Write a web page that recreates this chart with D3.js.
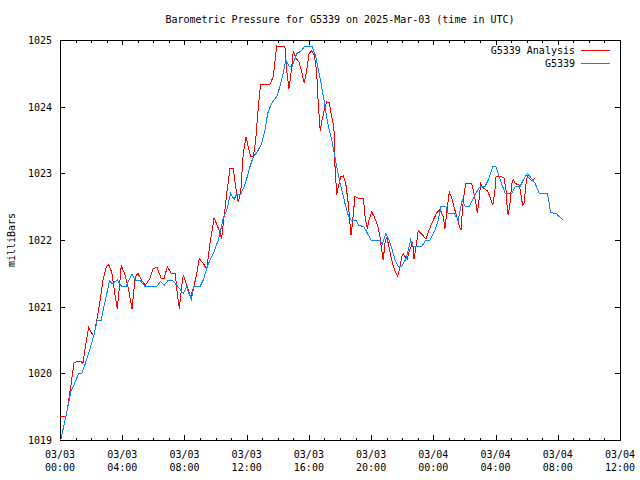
<!DOCTYPE html>
<html>
<head>
<meta charset="utf-8">
<script src="https://cdn.jsdelivr.net/npm/d3@7.9.0/dist/d3.min.js"></script>
<style>
  body { margin: 0; background: #fff; }
  svg { display: block; font-family: "DejaVu Sans Mono", monospace; font-size: 10px; }
  .frame line, .frame rect { shape-rendering: crispEdges; }
  .series { shape-rendering: crispEdges; }
</style>
</head>
<body>
<div id="chart"></div>
<script>
// hours after 2025-03-03 00:00 UTC, and pressure in mb
const analysisHours = [0.0, 0.40, 0.51, 0.69, 0.90, 1.11, 1.33, 1.48, 1.63, 1.84, 2.01, 2.17, 2.33, 2.55, 2.76, 2.98,
  3.15, 3.34, 3.52, 3.68, 3.84, 3.94, 4.16, 4.37, 4.63, 4.84, 5.01, 5.23, 5.48, 5.77, 5.98, 6.24, 6.51, 6.69, 6.90,
  7.15, 7.41, 7.54, 7.67, 7.82, 7.93, 8.18, 8.40, 8.61, 8.79, 8.95, 9.21, 9.43, 9.64, 9.82, 9.90, 10.11, 10.29, 10.39,
  10.54, 10.72, 10.93, 11.14, 11.29, 11.46, 11.62, 11.78, 11.96, 12.10, 12.26, 12.43, 12.58, 12.75, 12.90, 13.50,
  13.71, 13.93, 14.46, 14.57, 14.72, 14.85, 15.00, 15.15, 15.36, 15.54, 15.70, 15.86, 16.01, 16.18, 16.35, 16.50,
  16.60, 16.73, 16.82, 16.99, 17.14, 17.31, 17.47, 17.61, 17.68, 17.79, 17.89, 18.06, 18.21, 18.37, 18.53, 18.71,
  18.82, 18.96, 19.18, 19.50, 19.61, 19.76, 19.86, 20.04, 20.20, 20.42, 20.57, 20.68, 20.78, 20.89, 21.00, 21.15,
  21.32, 21.49, 21.71, 21.86, 21.97, 22.07, 22.18, 22.33, 22.46, 22.67, 22.76, 22.89, 23.03, 23.19, 23.36, 23.53,
  23.74, 24.00, 24.22, 24.43, 24.64, 24.75, 24.90, 25.03, 25.18, 25.33, 25.50, 25.67, 25.78, 25.84, 25.93, 26.08,
  26.46, 26.61, 26.74, 26.83, 26.92, 27.04, 27.21, 27.47, 27.64, 27.82, 27.94, 28.03, 28.29, 28.54, 28.67, 28.76,
  28.82, 28.93, 29.04, 29.14, 29.25, 29.53, 29.62, 29.74, 29.83, 29.96, 30.04, 30.17, 30.32, 30.43, 30.54];
const analysisValues = [1019.35, 1019.36, 1019.52, 1019.80, 1020.16, 1020.18, 1020.18, 1020.15, 1020.40, 1020.69,
  1020.61, 1020.56, 1020.75, 1021.05, 1021.40, 1021.60, 1021.63, 1021.50, 1021.20, 1020.97, 1021.35, 1021.62,
  1021.49, 1021.30, 1020.97, 1021.45, 1021.50, 1021.40, 1021.32, 1021.42, 1021.57, 1021.59, 1021.42, 1021.42,
  1021.60, 1021.50, 1021.50, 1021.20, 1020.97, 1021.30, 1021.48, 1021.30, 1021.15, 1021.30, 1021.50, 1021.72,
  1021.65, 1021.56, 1021.95, 1022.20, 1022.33, 1022.22, 1022.10, 1022.02, 1022.33, 1022.70, 1023.08, 1023.08,
  1022.80, 1022.57, 1022.72, 1023.30, 1023.55, 1023.40, 1023.25, 1023.25, 1023.50, 1024.00, 1024.34, 1024.34,
  1024.45, 1024.91, 1024.90, 1024.55, 1024.27, 1024.50, 1024.83, 1024.73, 1024.67, 1024.52, 1024.35, 1024.55,
  1024.80, 1024.84, 1024.77, 1024.52, 1024.05, 1023.63, 1023.77, 1023.95, 1024.07, 1024.06, 1023.85, 1023.68,
  1023.10, 1022.68, 1022.80, 1022.95, 1022.96, 1022.85, 1022.55, 1022.07, 1022.30, 1022.65, 1022.63, 1022.63,
  1022.35, 1022.17, 1022.30, 1022.42, 1022.35, 1022.22, 1022.05, 1021.85, 1021.70, 1021.95, 1022.05, 1021.90,
  1021.70, 1021.56, 1021.45, 1021.60, 1021.75, 1021.80, 1021.75, 1021.71, 1021.85, 1021.95, 1021.72, 1021.90,
  1022.14, 1022.10, 1022.06, 1022.01, 1022.16, 1022.30, 1022.41, 1022.46, 1022.35, 1022.17, 1022.50, 1022.72,
  1022.63, 1022.50, 1022.35, 1022.21, 1022.15, 1022.35, 1022.60, 1022.85, 1022.85, 1022.70, 1022.55, 1022.40,
  1022.56, 1022.85, 1022.78, 1022.74, 1022.65, 1022.52, 1022.70, 1022.95, 1022.95, 1022.94, 1022.75, 1022.45,
  1022.37, 1022.55, 1022.85, 1022.91, 1022.85, 1022.82, 1022.70, 1022.52, 1022.55, 1022.85, 1022.96, 1022.92,
  1022.89, 1022.91, 1022.92];

const obsHours = [0.05, 0.51, 0.69, 0.94, 1.20, 1.41, 1.59, 1.91, 2.19, 2.40, 2.65, 2.87, 3.19, 3.34, 3.68, 3.94,
  4.26, 4.63, 4.84, 5.12, 5.44, 6.25, 6.47, 6.69, 6.94, 7.26, 7.54, 7.93, 8.14, 8.44, 8.61, 9.00, 9.21, 9.53, 9.86,
  10.18, 10.33, 10.50, 10.72, 10.97, 11.19, 11.36, 11.62, 11.83, 12.04, 12.21, 12.43, 12.68, 12.97, 13.18, 13.35,
  13.61, 13.93, 14.14, 14.35, 14.51, 14.72, 14.93, 15.22, 15.49, 15.70, 16.22, 16.44, 16.61, 16.82, 16.99, 17.14,
  17.31, 17.47, 17.63, 17.79, 17.96, 18.11, 18.32, 18.53, 18.71, 19.01, 19.22, 19.54, 19.72, 19.99, 20.57, 20.72,
  20.94, 21.15, 21.32, 21.54, 21.75, 21.97, 22.24, 22.39, 22.54, 22.71, 23.25, 23.51, 23.79, 24.11, 24.32, 24.49,
  24.80, 24.96, 25.33, 25.60, 25.86, 26.03, 26.31, 26.68, 27.00, 27.32, 27.53, 27.82, 28.03, 28.24, 28.46, 28.61,
  29.04, 29.25, 29.57, 29.78, 30.04, 30.32, 30.54, 30.81, 31.33, 31.45, 31.54, 31.89, 32.10, 32.32];
const obsValues = [1019.0, 1019.5, 1019.72, 1019.85, 1020.0, 1020.0, 1020.12, 1020.35, 1020.58, 1020.8, 1020.8,
  1021.05, 1021.39, 1021.34, 1021.4, 1021.31, 1021.31, 1021.49, 1021.4, 1021.4, 1021.31, 1021.31, 1021.38, 1021.32,
  1021.39, 1021.39, 1021.31, 1021.2, 1021.3, 1021.1, 1021.3, 1021.3, 1021.4, 1021.64, 1021.8, 1022.0, 1022.15,
  1022.33, 1022.45, 1022.7, 1022.61, 1022.69, 1022.69, 1022.8, 1022.95, 1023.1, 1023.25, 1023.32, 1023.45, 1023.65,
  1023.9, 1024.05, 1024.15, 1024.3, 1024.5, 1024.7, 1024.61, 1024.6, 1024.8, 1024.83, 1024.9, 1024.9, 1024.75,
  1024.55, 1024.3, 1024.07, 1023.85, 1023.65, 1023.5, 1023.3, 1023.1, 1022.9, 1022.75, 1022.55, 1022.37, 1022.3,
  1022.3, 1022.22, 1022.2, 1022.12, 1022.0, 1022.0, 1021.94, 1022.09, 1022.0, 1021.88, 1021.7, 1021.6, 1021.6,
  1021.72, 1021.85, 1022.0, 1021.9, 1021.9, 1022.0, 1022.0, 1022.15, 1022.3, 1022.5, 1022.5, 1022.4, 1022.4,
  1022.3, 1022.6, 1022.51, 1022.5, 1022.68, 1022.8, 1022.8, 1022.9, 1023.1, 1023.1, 1022.95, 1022.8, 1022.7,
  1022.7, 1022.8, 1022.8, 1022.9, 1023.0, 1022.92, 1022.85, 1022.7, 1022.7, 1022.55, 1022.41, 1022.4, 1022.35,
  1022.31];

const seriesNames = ['G5339 Analysis', 'G5339'];
const seriesColors = ['#ff0000', '#0a84ff'];
const yTicks = [1019, 1020, 1021, 1022, 1023, 1024, 1025];

const start = new Date(Date.UTC(2025, 2, 3, 0, 0));
const end = new Date(Date.UTC(2025, 2, 4, 12, 0));
const toDate = h => new Date(start.getTime() + h * 3600e3);

const width = 640, height = 480;
const margin = { top: 40, right: 20, bottom: 40, left: 60 };

const svg = d3.select('#chart').append('svg')
  .attr('width', width)
  .attr('height', height);

const x = d3.scaleUtc().domain([start, end]).range([margin.left, width - margin.right]);
const y = d3.scaleLinear().domain([1019, 1025]).range([height - margin.bottom, margin.top]);

const frame = svg.append('g').attr('class', 'frame');
const majors = d3.utcHour.every(4).range(start, d3.utcMinute.offset(end, 1));
const minors = d3.utcHour.range(start, d3.utcMinute.offset(end, 1));

// ticks on all four sides, gnuplot style
frame.selectAll('.xminor').data(minors).join('g')
  .each(function (d) {
    const g = d3.select(this), px = Math.round(x(d)) + 0.5;
    const len = majors.some(m => +m === +d) ? 5 : 2.5;
    g.append('line').attr('x1', px).attr('x2', px)
      .attr('y1', y(1019)).attr('y2', y(1019) - len).attr('stroke', '#000');
    g.append('line').attr('x1', px).attr('x2', px)
      .attr('y1', y(1025)).attr('y2', y(1025) + len).attr('stroke', '#000');
  });

frame.selectAll('.ytick').data(yTicks).join('g')
  .each(function (d) {
    const g = d3.select(this), py = Math.round(y(d)) + 0.5;
    g.append('line').attr('x1', x.range()[0]).attr('x2', x.range()[0] + 5)
      .attr('y1', py).attr('y2', py).attr('stroke', '#000');
    g.append('line').attr('x1', x.range()[1]).attr('x2', x.range()[1] - 5)
      .attr('y1', py).attr('y2', py).attr('stroke', '#000');
  });

frame.append('rect')
  .attr('x', x.range()[0] + 0.5).attr('y', y(1025) + 0.5)
  .attr('width', x.range()[1] - x.range()[0]).attr('height', y(1019) - y(1025))
  .attr('fill', 'none').attr('stroke', '#000');

// y labels
svg.append('g').selectAll('text').data(yTicks).join('text')
  .attr('x', x.range()[0] - 8)
  .attr('y', d => y(d) + 4)
  .attr('text-anchor', 'end')
  .text(d => d);

// x labels (two lines)
const fmtDay = d3.utcFormat('%m/%d'), fmtTime = d3.utcFormat('%H:%M');
const xl = svg.append('g').selectAll('text').data(majors).join('text')
  .attr('text-anchor', 'middle');
xl.append('tspan').attr('x', d => x(d)).attr('y', 458).text(fmtDay);
xl.append('tspan').attr('x', d => x(d)).attr('y', 471).text(fmtTime);

svg.append('text')
  .attr('x', (x.range()[0] + x.range()[1]) / 2)
  .attr('y', 23)
  .attr('text-anchor', 'middle')
  .text('Barometric Pressure for G5339 on 2025-Mar-03 (time in UTC)');

svg.append('text')
  .attr('transform', `translate(15, ${height / 2}) rotate(-90)`)
  .attr('text-anchor', 'middle')
  .text('milliBars');

// lines
const line = d3.line().x(d => x(d[0])).y(d => y(d[1]));
const analysis = analysisHours.map((h, i) => [toDate(h), analysisValues[i]]);
const obs = obsHours.map((h, i) => [toDate(h), obsValues[i]]);

svg.append('path').datum(analysis).attr('class', 'series')
  .attr('d', line).attr('fill', 'none')
  .attr('stroke', seriesColors[0]).attr('stroke-width', 1);
svg.append('path').datum(obs).attr('class', 'series')
  .attr('d', line).attr('fill', 'none')
  .attr('stroke', seriesColors[1]).attr('stroke-width', 1);

// legend
const legend = svg.append('g');
seriesNames.forEach((name, i) => {
  const ly = 50 + i * 13;
  legend.append('text').attr('x', 575).attr('y', ly + 4)
    .attr('text-anchor', 'end').text(name);
  legend.append('line').attr('x1', 581).attr('x2', 610)
    .attr('y1', ly + 0.5).attr('y2', ly + 0.5).attr('class', 'series')
    .attr('stroke', seriesColors[i]).attr('stroke-width', 1);
});
</script>
</body>
</html>
